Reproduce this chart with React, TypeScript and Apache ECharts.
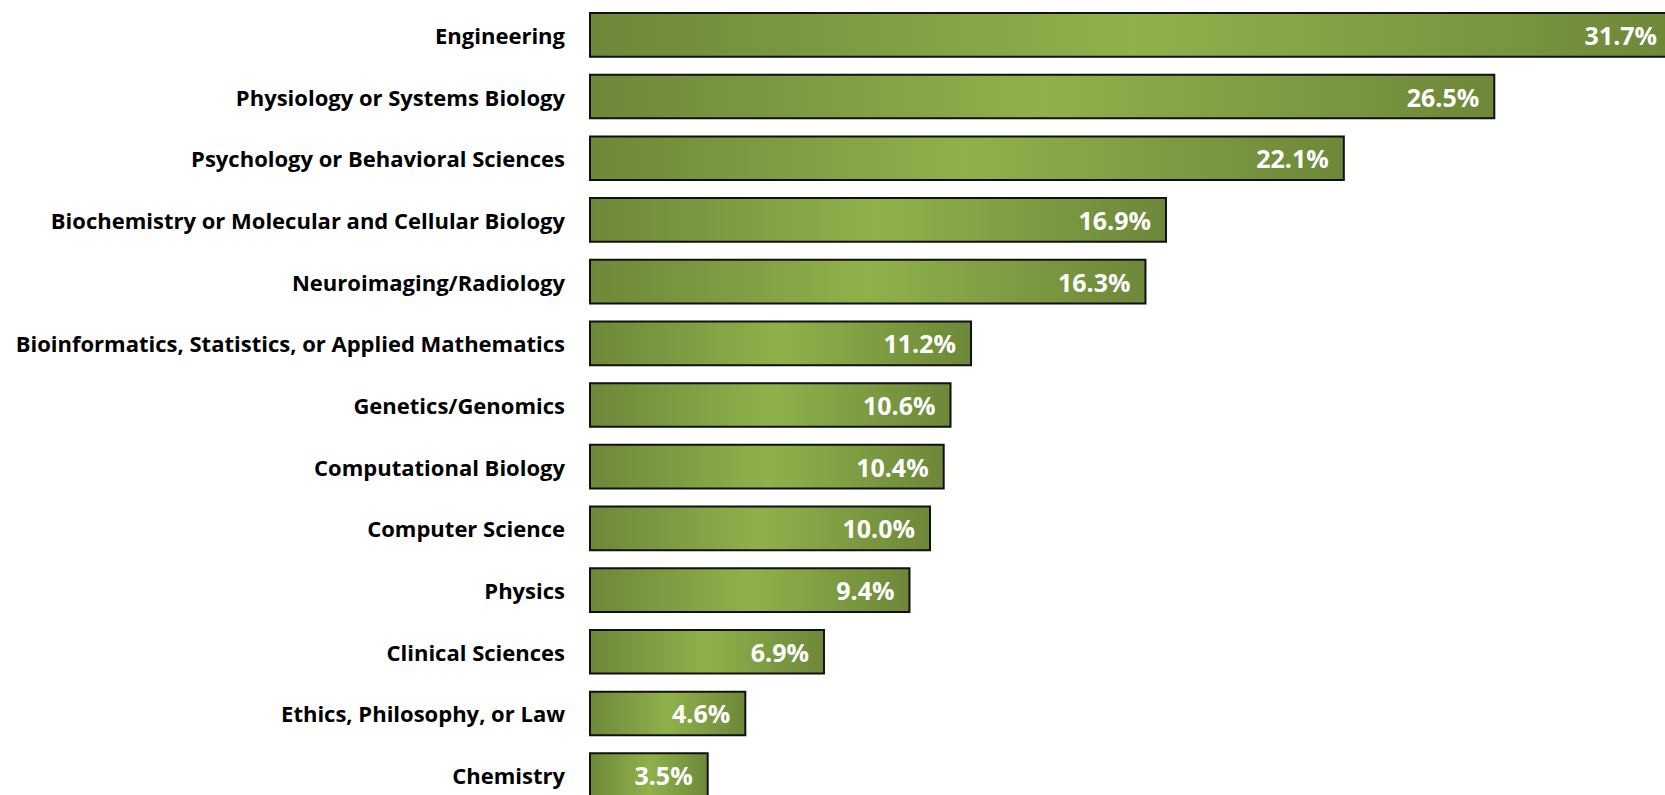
import React, { useEffect, useRef } from "react";
import * as echarts from "echarts";

const categories: string[] = [
  "Engineering",
  "Physiology or Systems Biology",
  "Psychology or Behavioral Sciences",
  "Biochemistry or Molecular and Cellular Biology",
  "Neuroimaging/Radiology",
  "Bioinformatics, Statistics, or Applied Mathematics",
  "Genetics/Genomics",
  "Computational Biology",
  "Computer Science",
  "Physics",
  "Clinical Sciences",
  "Ethics, Philosophy, or Law",
  "Chemistry",
];

const values: number[] = [31.7, 26.5, 22.1, 16.9, 16.3, 11.2, 10.6, 10.4, 10.0, 9.4, 6.9, 4.6, 3.5];

export default function App() {
  const ref = useRef<HTMLDivElement>(null);

  useEffect(() => {
    if (!ref.current) return;
    const chart = echarts.init(ref.current, undefined, { renderer: "svg" });
    const gradient = new echarts.graphic.LinearGradient(0, 0, 1, 0, [
      { offset: 0, color: "#6d8839" },
      { offset: 0.5, color: "#8fb14b" },
      { offset: 1, color: "#6d8839" },
    ]);
    chart.setOption({
      animation: false,
      grid: {
        left: 589,
        top: 4,
        width: 34.2 * 35,
        height: 802,
        containLabel: false,
        outerBoundsMode: "none",
      },
      xAxis: {
        type: "value",
        min: 0,
        max: 35,
        show: false,
      },
      yAxis: {
        type: "category",
        data: categories,
        inverse: true,
        axisLine: { show: false },
        axisTick: { show: false },
        axisLabel: {
          color: "#000",
          fontFamily: "Open Sans",
          fontWeight: "bold",
          fontSize: 22,
          margin: 24,
        },
      },
      series: [
        {
          type: "bar",
          data: values,
          barCategoryGap: "26%",
          clip: false,
          itemStyle: {
            color: gradient,
            borderColor: "#111",
            borderWidth: 2,
          },
          label: {
            show: true,
            position: "insideRight",
            distance: 16,
            color: "#fff",
            fontFamily: "Open Sans",
            fontWeight: "bold",
            fontSize: 25,
            formatter: (p: any) => p.value.toFixed(1) + "%",
          },
        },
      ],
    });
    return () => chart.dispose();
  }, []);

  return (
    <div
      ref={ref}
      style={{ position: "fixed", left: 0, top: 0, width: 1665, height: 795, background: "#fff" }}
    />
  );
}
